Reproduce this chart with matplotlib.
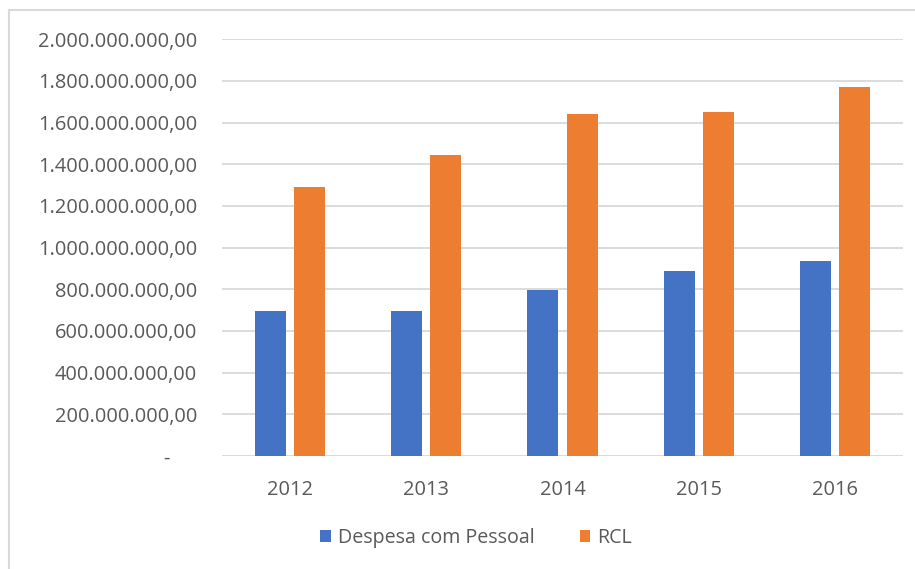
import numpy
import matplotlib
matplotlib.use("Agg")
import matplotlib.pyplot as plt
from matplotlib.patches import Patch
from matplotlib.lines import Line2D
from matplotlib.ticker import FuncFormatter

anos = ["2012", "2013", "2014", "2015", "2016"]
despesa_pessoal = [0.698e9, 0.698e9, 0.797e9, 0.888e9, 0.935e9]
rcl = [1.291e9, 1.445e9, 1.642e9, 1.650e9, 1.773e9]
series_labels = ["Despesa com Pessoal", "RCL"]
cores = ["#4472c4", "#ed7d31"]

plt.rcParams["font.family"] = ["Open Sans", "DejaVu Sans"]
cinza = "#595959"
grade = "#d9d9d9"


def fmt(v, pos):
  if abs(v) < 1:
    return "-     "
  s = "{:,.2f}".format(v)
  return s.replace(",", "X").replace(".", ",").replace("X", ".")


fig = plt.figure(figsize=(9.15, 5.69), dpi=100)
ax = fig.add_axes([222 / 915, 1 - 456 / 569, 681 / 915, (456 - 39.3) / 569])

x = numpy.arange(len(anos))
w = 0.228
off = 0.144
ax.bar(x - off, despesa_pessoal, w, color=cores[0], zorder=3)
ax.bar(x + off, rcl, w, color=cores[1], zorder=3)

ax.set_xlim(-0.5, len(anos) - 0.5)
ax.set_ylim(0, 2.0e9)
ax.set_yticks(numpy.arange(0, 2.0e9 + 1, 2.0e8))
ax.yaxis.set_major_formatter(FuncFormatter(fmt))
ax.set_xticks(x)
ax.set_xticklabels(anos)
ax.grid(axis="y", color=grade, linewidth=1.3, zorder=0)
for s in ax.spines.values():
  s.set_visible(False)
ax.tick_params(axis="both", length=0, labelsize=14.4, labelcolor=cinza)
ax.tick_params(axis="y", pad=18)
ax.tick_params(axis="x", pad=17)

handles = [Patch(facecolor=c, edgecolor="none") for c in cores]
fig.legend(handles, series_labels, loc="center", bbox_to_anchor=(476 / 915, 1 - 538 / 569),
           ncol=2, frameon=False, fontsize=14.1, labelcolor=cinza,
           handlelength=0.55, handleheight=0.55, handletextpad=0.35, columnspacing=2.3)

# moldura do grafico
fig.add_artist(Line2D([9 / 915, 9 / 915], [0, 1 - 10 / 569], color=grade, linewidth=1.5))
fig.add_artist(Line2D([9 / 915, 1], [1 - 10 / 569, 1 - 10 / 569], color=grade, linewidth=1.5))

fig.savefig("out.png", dpi=100)
